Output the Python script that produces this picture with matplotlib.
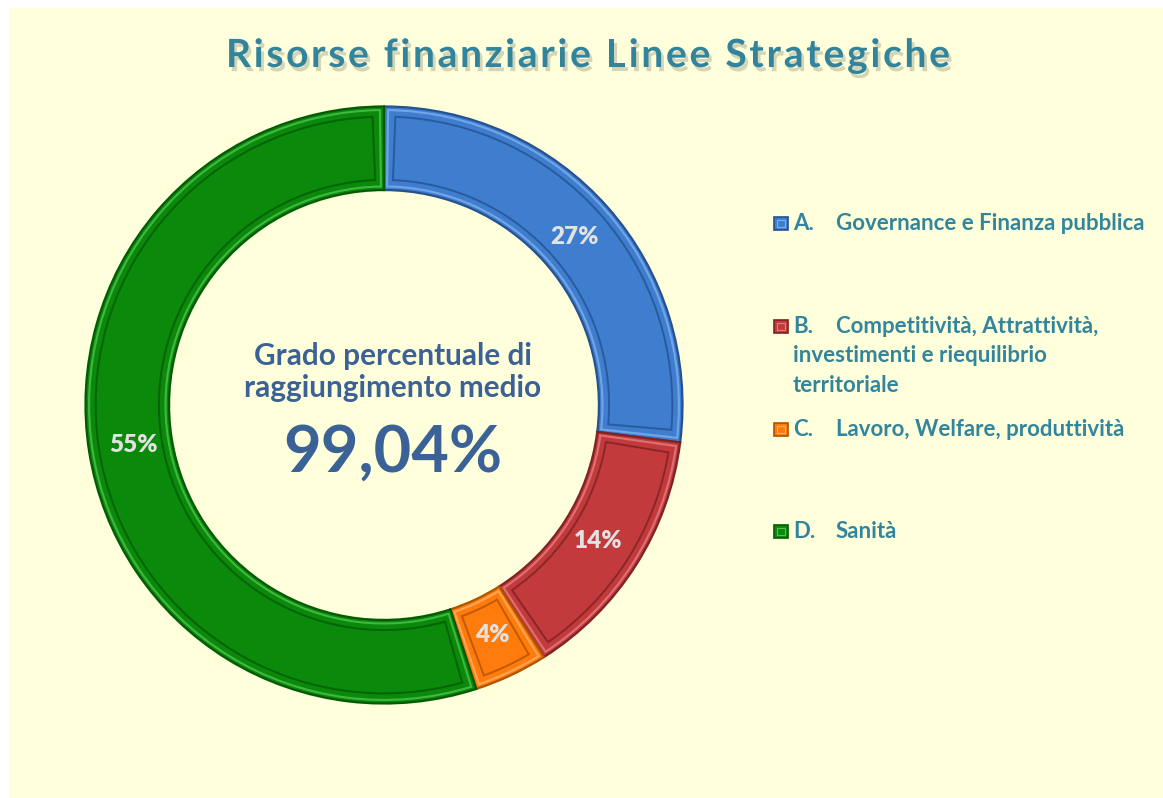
import numpy as np
import matplotlib
matplotlib.use('Agg')
import matplotlib.pyplot as plt
import matplotlib.patheffects as pe
from matplotlib.patches import Wedge, Rectangle

##### data
categories = ['Governance e Finanza pubblica',
              'Competitività, Attrattività,\ninvestimenti e riequilibrio\nterritoriale',
              'Lavoro, Welfare, produttività',
              'Sanità']
prefixes = ['A.', 'B.', 'C.', 'D.']
shares = [27, 14, 4, 55]
pct_labels = ['27%', '14%', '4%', '55%']
centre_lines = ['Grado percentuale di', 'raggiungimento medio']
centre_value = '99,04%'
title = 'Risorse finanziarie Linee Strategiche'

##### styles
face_cols = ['#3F7ECF', '#C23A3C', '#FF7C0C', '#0A890A']
dark_cols = ['#24528F', '#7E2224', '#B05200', '#045A04']
light_cols = ['#7FB0EE', '#E57F80', '#FFB066', '#4FC24F']
title_col = '#31849B'
legend_col = '#31859C'
centre_col = '#3A6296'
cream = '#FFFFDC'
font = 'Lato'

W, H = 1163, 798
fig = plt.figure(figsize=(W / 100, H / 100), dpi=100, facecolor='white')
renderer = fig.canvas.get_renderer()

def fx(px):
    return px / W

def fy(py):
    return 1 - py / H

def text_w(txt, size, weight='bold'):
    t = fig.text(0, 0, txt, fontsize=size, fontweight=weight, family=font)
    w = t.get_window_extent(renderer).width
    t.remove()
    return w

def fit_size(txt, width_px, weight='bold'):
    # font size that makes txt span width_px
    return 10 * width_px / text_w(txt, 10, weight)

# cream background panel (below the axes)
fig.patches.append(Rectangle((fx(9), 0), 1, fy(8), transform=fig.transFigure,
                             facecolor=cream, edgecolor='none', zorder=-5))

##### donut
cx, cy, R = 384, 405, 300
ax = fig.add_axes([fx(cx - R), 1 - (cy + R) / H, 2 * R / W, 2 * R / H])

ring = 0.28
wedges, _ = ax.pie(shares, colors=face_cols, startangle=90, counterclock=False,
                   radius=1.0, wedgeprops=dict(width=ring, linewidth=1.6))
for w, dc in zip(wedges, dark_cols):
    w.set_edgecolor(dc)
# pie() sets its own limits, so put them back afterwards
ax.set_xlim(-1.005, 1.005)
ax.set_ylim(-1.005, 1.005)
ax.set_aspect('equal')
ax.axis('off')

# bevel: inset outlines (light then dark)
r_in = 1.0 - ring
r_mid = (1.0 + r_in) / 2
for w, dc, lc in zip(wedges, dark_cols, light_cols):
    t1, t2 = w.theta1, w.theta2
    for d, col, lw in [(0.012, lc, 1.5), (0.034, dc, 1.4)]:
        dth = np.degrees(d / r_mid)
        ax.add_patch(Wedge((0, 0), 1.0 - d, t1 + dth, t2 - dth, width=ring - 2 * d,
                           facecolor='none', edgecolor=col, linewidth=lw, alpha=0.8))

# percentage labels
lab_size = fit_size('27%', 48)
ang = 90.0
for s, lab in zip(shares, pct_labels):
    mid = np.radians(ang - s * 3.6 / 2)
    ang -= s * 3.6
    ax.text(0.85 * np.cos(mid), 0.85 * np.sin(mid), lab, ha='center', va='center',
            fontsize=lab_size, fontweight='heavy', family=font, color='#E2E2E2')

##### centre text
c_size = fit_size(centre_lines[0], 279)
fig.text(fx(393), fy(365), centre_lines[0], ha='center', va='baseline',
         fontsize=c_size, fontweight='bold', family=font, color=centre_col)
fig.text(fx(393), fy(397), centre_lines[1], ha='center', va='baseline',
         fontsize=c_size, fontweight='bold', family=font, color=centre_col)
fig.text(fx(393), fy(472), centre_value, ha='center', va='baseline',
         fontsize=fit_size(centre_value, 220), fontweight='bold', family=font,
         color=centre_col)

##### title, drawn letter by letter with extra tracking
t_size = 28
t_x0, t_x1 = 226, 950
ref = text_w('|', t_size)
offs = [text_w(title[:i] + '|', t_size) - ref if i else 0.0 for i in range(len(title))]
track = (t_x1 - t_x0 - text_w(title, t_size)) / (len(title) - 1)
shadow = [pe.withSimplePatchShadow(offset=(2, -3), shadow_rgbFace='#A0A088', alpha=0.45)]
for i, ch in enumerate(title):
    if ch == ' ':
        continue
    fig.text(fx(t_x0 + offs[i] + i * track), fy(67), ch, ha='left', va='baseline',
             fontsize=t_size, fontweight='bold', family=font, color=title_col,
             path_effects=shadow)

##### legend
leg_size = fit_size(categories[0], 308)
baselines = [230, 333, 436, 538]
line_gap = 29.5
for pre, cat, base, fc, dc, lc in zip(prefixes, categories, baselines,
                                      face_cols, dark_cols, light_cols):
    fig.patches.append(Rectangle((fx(774), fy(base)), fx(14), 13 / H,
                                 transform=fig.transFigure, facecolor=fc,
                                 edgecolor=dc, linewidth=1.2, zorder=3))
    fig.patches.append(Rectangle((fx(777), fy(base - 3)), fx(8), 7 / H,
                                 transform=fig.transFigure, facecolor='none',
                                 edgecolor=lc, linewidth=0.8, zorder=4))
    fig.text(fx(793), fy(base), pre, ha='left', va='baseline', fontsize=leg_size,
             fontweight='bold', family=font, color=legend_col)
    for k, line in enumerate(cat.split('\n')):
        x0 = 836 if k == 0 else 793
        fig.text(fx(x0), fy(base + k * line_gap), line, ha='left', va='baseline',
                 fontsize=leg_size, fontweight='bold', family=font, color=legend_col)

fig.savefig('out.png', dpi=100, facecolor='white')
